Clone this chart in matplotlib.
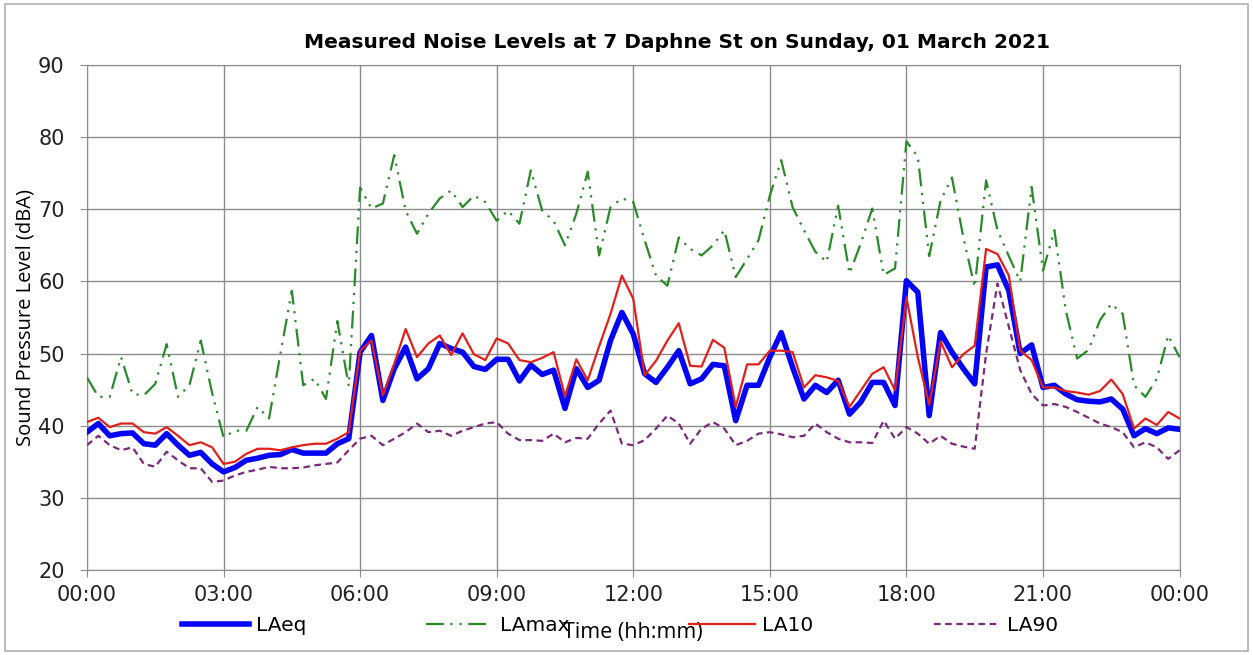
import numpy as np
import matplotlib
matplotlib.use("Agg")
import matplotlib.pyplot as plt
from matplotlib.patches import Rectangle

# 15-minute readings, 00:00 -> 24:00
laeq = [39.1, 40.3, 38.6, 38.9, 39.0, 37.5, 37.3, 38.9, 37.3, 35.9, 36.3, 34.7,
        33.6, 34.2, 35.2, 35.5, 35.9, 36.0, 36.7, 36.2, 36.2, 36.2, 37.5, 38.2,
        50.2, 52.5, 43.5, 47.9, 50.9, 46.5, 47.9, 51.4, 50.7, 50.2, 48.2, 47.8,
        49.2, 49.2, 46.2, 48.4, 47.1, 47.7, 42.4, 47.9, 45.3, 46.3, 51.8, 55.7,
        52.7, 47.2, 46.0, 48.1, 50.4, 45.8, 46.5, 48.5, 48.3, 40.7, 45.6, 45.6,
        49.5, 52.9, 48.1, 43.7, 45.6, 44.6, 46.3, 41.6, 43.3, 46.0, 46.0, 42.8,
        60.1, 58.5, 41.4, 52.9, 50.2, 47.9, 45.8, 62.0, 62.3, 58.7, 50.0, 51.2,
        45.3, 45.6, 44.4, 43.6, 43.4, 43.3, 43.7, 42.3, 38.6, 39.6, 38.9, 39.7,
        39.5]
lamax = [46.7, 44.0, 44.0, 49.5, 44.4, 44.2, 45.8, 51.3, 44.0, 45.6, 51.8, 44.5,
         38.4, 39.3, 39.3, 42.6, 41.0, 50.0, 58.7, 45.6, 46.5, 43.7, 54.5, 45.5,
         73.0, 70.1, 70.8, 77.5, 69.8, 66.6, 69.4, 71.5, 72.6, 70.3, 71.9, 71.0,
         68.4, 69.8, 68.0, 75.4, 69.8, 68.4, 65.0, 69.4, 75.2, 63.6, 70.3, 71.5,
         71.0, 65.7, 60.8, 59.4, 66.1, 64.5, 63.6, 65.0, 67.1, 60.6, 63.1, 65.7,
         71.9, 76.8, 70.3, 67.1, 64.1, 62.7, 70.5, 61.1, 65.3, 70.1, 60.9, 61.8,
         79.4, 77.3, 63.5, 71.2, 74.4, 66.1, 59.2, 74.0, 67.1, 63.5, 60.0, 73.1,
         61.5, 67.1, 56.0, 49.3, 50.5, 54.6, 56.9, 55.5, 45.6, 44.0, 46.5, 52.5,
         49.5]
la10 = [40.5, 41.1, 39.8, 40.3, 40.3, 39.1, 38.9, 39.8, 38.6, 37.3, 37.7, 37.0,
        34.7, 35.0, 36.1, 36.8, 36.8, 36.6, 37.0, 37.3, 37.5, 37.5, 38.2, 39.1,
        50.4, 51.8, 44.2, 48.6, 53.4, 49.5, 51.4, 52.5, 49.8, 52.8, 49.9, 49.1,
        52.1, 51.4, 49.1, 48.8, 49.4, 50.2, 44.1, 49.2, 46.3, 51.0, 55.5, 60.8,
        57.6, 47.0, 49.0, 51.8, 54.2, 48.3, 48.2, 51.9, 50.8, 42.6, 48.5, 48.5,
        50.4, 50.4, 50.2, 45.3, 47.0, 46.7, 46.2, 42.6, 44.9, 47.2, 48.1, 44.9,
        57.8, 49.5, 42.9, 51.7, 48.1, 49.9, 51.1, 64.5, 63.8, 60.8, 50.4, 49.1,
        45.3, 45.3, 44.8, 44.6, 44.3, 44.8, 46.4, 44.4, 39.6, 41.0, 40.1, 41.9,
        41.0]
la90 = [37.3, 38.6, 37.3, 36.6, 37.0, 34.7, 34.3, 36.4, 35.2, 34.1, 34.1, 32.2,
        32.4, 33.1, 33.6, 33.9, 34.3, 34.1, 34.1, 34.2, 34.5, 34.7, 34.9, 36.6,
        38.2, 38.6, 37.3, 38.2, 39.1, 40.3, 39.1, 39.3, 38.6, 39.3, 39.8, 40.3,
        40.5, 38.9, 38.0, 38.0, 37.9, 38.9, 37.7, 38.3, 38.2, 40.3, 42.1, 37.5,
        37.3, 38.0, 39.6, 41.4, 40.3, 37.5, 39.6, 40.5, 39.6, 37.3, 37.9, 38.9,
        39.1, 38.8, 38.4, 38.6, 40.3, 39.1, 38.2, 37.7, 37.7, 37.6, 40.7, 38.2,
        39.8, 38.9, 37.5, 38.6, 37.5, 37.1, 36.8, 50.0, 59.7, 53.7, 47.7, 44.4,
        42.8, 43.0, 42.6, 41.9, 41.1, 40.3, 39.8, 39.1, 37.0, 37.7, 37.0, 35.4,
        36.6]
tick_labels = ["00:00", "03:00", "06:00", "09:00", "12:00",
               "15:00", "18:00", "21:00", "00:00"]

hours = np.arange(len(laeq)) * 0.25

fig = plt.figure(figsize=(12.53, 6.55), dpi=100)
ax = fig.add_axes([0.0694, 0.1298, 0.872, 0.771])

# draw the four series
ax.plot(hours, laeq, color="#0505f5", lw=4, label="LAeq", zorder=3)
ax.plot(hours, lamax, color="#2a8a2a", lw=1.6, dashes=(8, 3, 1, 3, 1, 3),
        label="LAmax", zorder=3)
ax.plot(hours, la10, color="#e0201b", lw=1.6, label="LA10", zorder=4)
ax.plot(hours, la90, color="#7a2a7a", lw=1.6, dashes=(3, 2),
        label="LA90", zorder=3)

# axes and grid
ax.set_xlim(0, 24)
ax.set_ylim(20, 90)
ax.set_xticks(np.arange(0, 25, 3))
ax.set_xticklabels(tick_labels)
ax.set_yticks(np.arange(20, 91, 10))
ax.grid(True, color="#8c8c8c", lw=1)
ax.set_axisbelow(True)
ax.tick_params(labelsize=15, color="#8c8c8c", length=5, labelcolor="#222222")
ax.tick_params(axis="y", pad=11)
ax.tick_params(axis="x", pad=6)
for s in ax.spines.values():
    s.set_color("#8c8c8c")

ax.set_title("Measured Noise Levels at 7 Daphne St on Sunday, 01 March 2021",
             fontsize=14.5, fontweight="bold", pad=12, x=0.54)
ax.set_ylabel("Sound Pressure Level (dBA)", fontsize=14.5, family="Open Sans",
              labelpad=2)
fig.text(0.505, 0.034, "Time (hh:mm)", fontsize=15.5, family="Open Sans",
         ha="center", va="center")

fig.legend(loc="lower left", bbox_to_anchor=(0.139, 0.018, 0.712, 0.07),
           ncol=4, mode="expand", frameon=False, fontsize=14.5,
           handlelength=3.3, handletextpad=0.35, borderaxespad=0)

# grey frame round the whole chart
fig.patches.append(Rectangle((0.004, 0.006), 0.992, 0.988,
                             transform=fig.transFigure, fill=False,
                             edgecolor="#b0b0b0", lw=1.2))

plt.savefig("out.png", dpi=100)
